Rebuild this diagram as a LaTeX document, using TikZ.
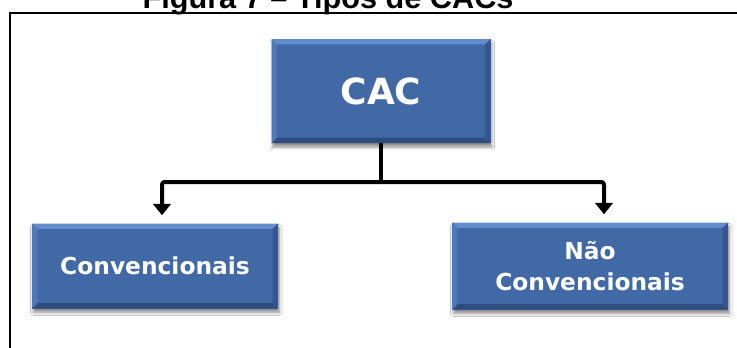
\documentclass[tikz,border=0pt]{standalone}
\usepackage{fontspec}
\setmainfont{Liberation Sans}
\newfontfamily\boxfont{DejaVu Sans}
\usetikzlibrary{arrows.meta,shadows.blur}

% one pixel of the drawing
\newdimen\pxu
\pxu=0.75pt

\definecolor{boxblue}{RGB}{64,105,166}
\definecolor{bevtop}{RGB}{98,140,206}
\definecolor{bevleft}{RGB}{80,120,184}
\definecolor{bevright}{RGB}{52,87,142}
\definecolor{bevbot}{RGB}{46,77,126}

\tikzset{
  bevelbox/.style={
    fill=boxblue, inner sep=0pt, align=center, text=white,
    font=\boxfont\bfseries,
    blur shadow={shadow xshift=1pt, shadow yshift=-3pt, shadow blur steps=6, shadow opacity=45},
    path picture={
      \def\bb{path picture bounding box}
      \fill[bevtop] (\bb.north west) -- (\bb.north east)
        -- ([shift={(-4pt,-4pt)}]\bb.north east) -- ([shift={(4pt,-4pt)}]\bb.north west) -- cycle;
      \fill[bevbot] (\bb.south west) -- (\bb.south east)
        -- ([shift={(-4pt,4pt)}]\bb.south east) -- ([shift={(4pt,4pt)}]\bb.south west) -- cycle;
      \fill[bevleft] (\bb.north west) -- ([shift={(4pt,-4pt)}]\bb.north west)
        -- ([shift={(4pt,4pt)}]\bb.south west) -- (\bb.south west) -- cycle;
      \fill[bevright] (\bb.north east) -- ([shift={(-4pt,-4pt)}]\bb.north east)
        -- ([shift={(-4pt,4pt)}]\bb.south east) -- (\bb.south east) -- cycle;
    }
  },
  conn/.style={line width=4\pxu, black, rounded corners=2pt, line join=round},
  arr/.style={-{Triangle[length=8.5pt,width=13pt]}},
  frameline/.style={line width=2.5\pxu, black}
}

\begin{document}
\begin{tikzpicture}[x=0.75pt,y=-0.75pt]
  \useasboundingbox (0,0) rectangle (737,347);
  \clip (0,0) rectangle (737,347);
  \fill[white] (0,0) rectangle (737,347);

  % caption above the frame
  \node[anchor=base, inner sep=0pt, font=\bfseries\fontsize{23pt}{27pt}\selectfont]
    (caption) at (328,8) {Figura 7 – Tipos de CACs};

  % frame around the figure
  \draw[frameline] (10,360) -- (10,13) -- (760,13);

  % boxes
  \node[bevelbox, minimum width=219\pxu, minimum height=104\pxu,
        font=\boxfont\bfseries\fontsize{27pt}{32pt}\selectfont]
    (cac) at (381,91) {CAC};
  \node[bevelbox, minimum width=246\pxu, minimum height=85\pxu,
        font=\boxfont\bfseries\fontsize{17.5pt}{23.5pt}\selectfont]
    (conv) at (155,266) {Convencionais};
  \node[bevelbox, minimum width=276\pxu, minimum height=87\pxu,
        font=\boxfont\bfseries\fontsize{17.5pt}{23.5pt}\selectfont]
    (nconv) at (590,266) {Não\\Convencionais};

  % connectors
  \draw[conn] (cac.south) -- (cac.south |- 0,182) coordinate (fork);
  \draw[conn,arr] (fork) -| ([xshift=5.25pt,yshift=6pt]conv.north);
  \draw[conn,arr] (fork) -| ([xshift=10.5pt,yshift=6pt]nconv.north);
\end{tikzpicture}
\end{document}
